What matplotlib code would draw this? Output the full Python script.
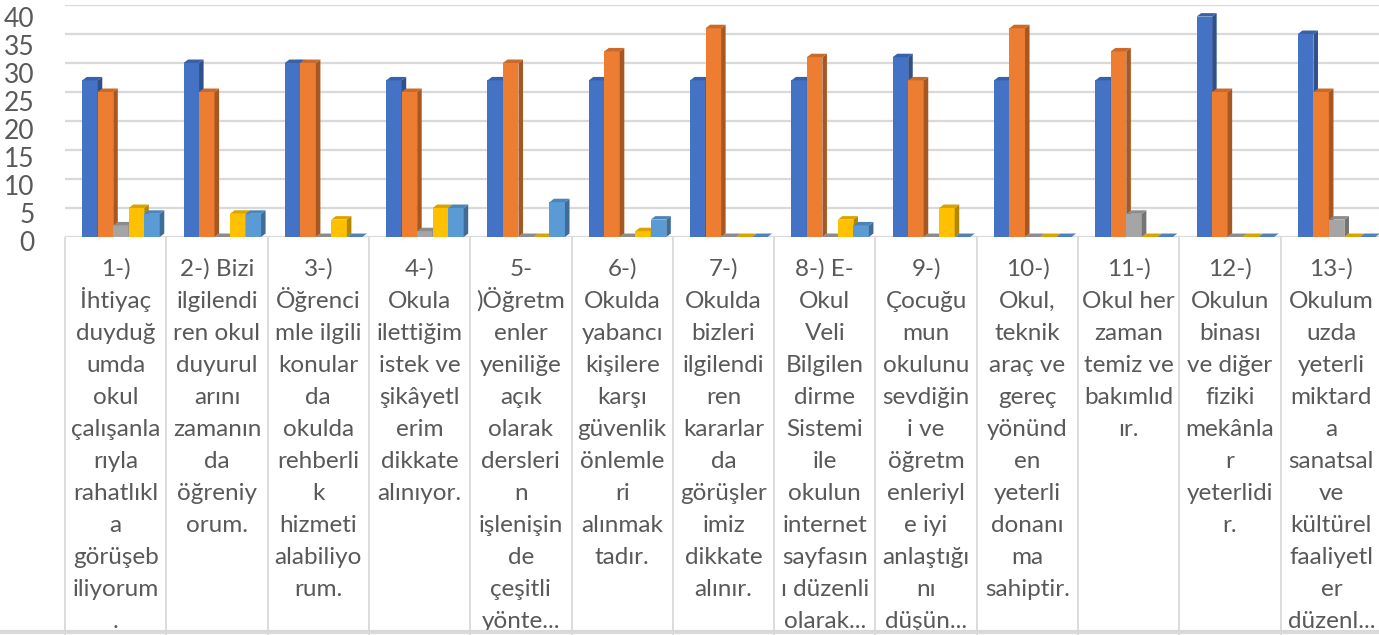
import numpy as np
import matplotlib.pyplot as plt
from matplotlib.patches import Polygon
from matplotlib.colors import to_rgb
import matplotlib.transforms as mtransforms

plt.rcParams['font.family'] = ['Lato', 'DejaVu Sans']

questions = [
    "1-)\nİhtiyaç\nduyduğ\numda\nokul\nçalışanla\nrıyla\nrahatlıkl\na\ngörüşeb\niliyorum\n.",
    "2-) Bizi\nilgilendi\nren okul\nduyurul\narını\nzamanın\nda\nöğreniy\norum.",
    "3-)\nÖğrenci\nmle ilgili\nkonular\nda\nokulda\nrehberli\nk\nhizmeti\nalabiliyo\nrum.",
    "4-)\nOkula\nilettiğim\nistek ve\nşikâyetl\nerim\ndikkate\nalınıyor.",
    "5-\n)Öğretm\nenler\nyeniliğe\naçık\nolarak\ndersleri\nn\nişlenişin\nde\nçeşitli\nyönte...",
    "6-)\nOkulda\nyabancı\nkişilere\nkarşı\ngüvenlik\nönlemle\nri\nalınmak\ntadır.",
    "7-)\nOkulda\nbizleri\nilgilendi\nren\nkararlar\nda\ngörüşler\nimiz\ndikkate\nalınır.",
    "8-) E-\nOkul\nVeli\nBilgilen\ndirme\nSistemi\nile\nokulun\ninternet\nsayfasın\nı düzenli\nolarak...",
    "9-)\nÇocuğu\nmun\nokulunu\nsevdiğin\ni ve\nöğretm\nenleriyl\ne iyi\nanlaştığı\nnı\ndüşün...",
    "10-)\nOkul,\nteknik\naraç ve\ngereç\nyönünd\nen\nyeterli\ndonanı\nma\nsahiptir.",
    "11-)\nOkul her\nzaman\ntemiz ve\nbakımlıd\nır.",
    "12-)\nOkulun\nbinası\nve diğer\nfiziki\nmekânla\nr\nyeterlidi\nr.",
    "13-)\nOkulum\nuzda\nyeterli\nmiktard\na\nsanatsal\nve\nkültürel\nfaaliyetl\ner\ndüzenl...",
]

s1 = [27, 30, 30, 27, 27, 27, 27, 27, 31, 27, 27, 38, 35]
s2 = [25, 25, 30, 25, 30, 32, 36, 31, 27, 36, 32, 25, 25]
s3 = [2, 0, 0, 1, 0, 0, 0, 0, 0, 0, 4, 0, 3]
s4 = [5, 4, 3, 5, 0, 1, 0, 3, 5, 0, 0, 0, 0]
s5 = [4, 4, 0, 5, 6, 3, 0, 2, 0, 0, 0, 0, 0]

series = [s1, s2, s3, s4, s5]
colors = ['#4472C4', '#ED7D31', '#A5A5A5', '#FFC000', '#5B9BD5']
yticks = [0, 5, 10, 15, 20, 25, 30, 35, 40]

W, H = 1379, 635
fig = plt.figure(figsize=(W / 100, H / 100), dpi=100)

ax = fig.add_axes([65 / W, (H - 237) / H, 1317 / W, 232 / H])
ax.set_xlim(0, 13)
ax.set_ylim(0, 40)
for sp in ax.spines.values():
    sp.set_visible(False)
ax.set_xticks([])
ax.set_yticks([])
for t in yticks:
    ax.axhline(t, color='#d9d9d9', lw=1.6, zorder=0)

# bars with a fake 3D face (side + top)
bw = 0.153
dx, dy = 0.045, 0.6
x = np.arange(13)
for k, (vals, c) in enumerate(zip(series, colors)):
    left = x + 0.17 + k * bw
    ax.bar(left, vals, width=bw, align='edge', color=c, zorder=3 + k)
    rgb = np.array(to_rgb(c))
    for l, v in zip(left, vals):
        r = l + bw
        side = Polygon([(r, 0), (r + dx, dy), (r + dx, v + dy), (r, v)],
                       closed=True, color=rgb * 0.7, zorder=3 + k, lw=0)
        top = Polygon([(l, v), (l + dx, v + dy), (r + dx, v + dy), (r, v)],
                      closed=True, color=rgb * 0.85, zorder=3 + k, lw=0)
        ax.add_patch(side)
        ax.add_patch(top)

# y tick labels
lab = fig.add_axes([65 / W, (H - 241) / H, 0.001, 224 / H])
lab.set_ylim(0, 40)
lab.set_yticks(yticks)
lab.set_yticklabels([str(t) for t in yticks], fontsize=19, color='#595959')
lab.tick_params(axis='y', length=0, pad=22)
lab.set_xticks([])
for sp in lab.spines.values():
    sp.set_visible(False)
lab.patch.set_visible(False)

# category label table
trans = mtransforms.blended_transform_factory(ax.transData, fig.transFigure)
for i in range(14):
    ax.plot([i, i], [(H - 238) / H, 0], transform=trans, color='#d9d9d9',
            lw=1.3, clip_on=False)
line_h = 32
for i, q in enumerate(questions):
    for j, line in enumerate(q.split('\n')):
        y = (H - 276 - j * line_h) / H
        ax.text(i + 0.5, y, line, transform=trans, ha='center',
                va='baseline', fontsize=17.5, color='#595959', clip_on=False)
fig.add_artist(plt.Line2D([0, 1], [3 / H, 3 / H], color='#d9d9d9', lw=3))

fig.savefig('out.png', dpi=100)
